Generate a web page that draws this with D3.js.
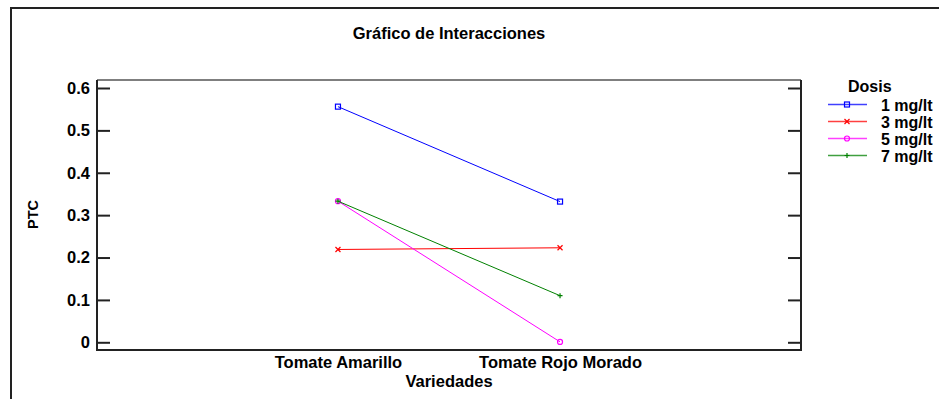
<!DOCTYPE html>
<html><head><meta charset="utf-8">
<script src="https://cdn.jsdelivr.net/npm/d3@7"></script>
<style>body{margin:0;background:#fff;} text{font-family:"Liberation Sans",Arial,sans-serif;font-weight:bold;}</style>
</head><body>
<svg id="c" width="939" height="399"></svg>
<script>
const categories = ["Tomate Amarillo", "Tomate Rojo Morado"];
const seriesNames = ["1 mg/lt", "3 mg/lt", "5 mg/lt", "7 mg/lt"];
const seriesColors = ["#0000ff", "#ff0000", "#ff00ff", "#008000"];
const seriesSymbols = ["square", "x", "circle", "plus"];
const v1 = [0.556, 0.332];
const v3 = [0.219, 0.223];
const v5 = [0.333, 0.001];
const v7 = [0.333, 0.110];
const yTicks = [0, 0.1, 0.2, 0.3, 0.4, 0.5, 0.6];
const seriesValues = [v1, v3, v5, v7];

const svg = d3.select("#c");
const L = 97, R = 801, T = 80, B = 350;
const FS = "16.5px";

// outer frame
svg.append("rect").attr("x", 11).attr("y", 8).attr("width", 960).attr("height", 420)
  .attr("fill", "none").attr("stroke", "#222").attr("stroke-width", 2);

const x = d3.scalePoint().domain(categories).range([L, R]).padding(1.085);
const y = d3.scaleLinear().domain([0, 0.6]).range([342.3, 88]);

// title
svg.append("text").attr("x", 449).attr("y", 39).attr("text-anchor", "middle")
  .style("font-size", FS).text("Gráfico de Interacciones");

// plot frame
svg.append("line").attr("x1", L).attr("x2", R).attr("y1", T).attr("y2", T).attr("stroke", "#000").attr("stroke-width", 1.2);
svg.append("path").attr("d", `M${L},${T}V${B}H${R}V${T}`).attr("fill", "none").attr("stroke", "#222").attr("stroke-width", 2);

// y axis left
const yAxisL = d3.axisRight(y).tickValues(yTicks).tickSize(13).tickFormat(d => d === 0 ? "0" : d3.format(".1f")(d));
const gL = svg.append("g").attr("transform", `translate(${L},0)`).call(yAxisL);
gL.select(".domain").remove();
gL.selectAll(".tick line").attr("stroke", "#222").attr("stroke-width", 2);
gL.selectAll(".tick text").attr("x", -7).attr("text-anchor", "end").attr("fill", "#000")
  .style("font-size", FS).style("font-family", "Liberation Sans, Arial, sans-serif").style("font-weight", "bold");

// y axis right ticks
const yAxisR = d3.axisLeft(y).tickValues(yTicks).tickSize(13).tickFormat("");
const gR = svg.append("g").attr("transform", `translate(${R},0)`).call(yAxisR);
gR.select(".domain").remove();
gR.selectAll(".tick line").attr("stroke", "#222").attr("stroke-width", 2);

// x axis labels
const xAxis = d3.axisBottom(x).tickSize(0).tickPadding(0);
const gX = svg.append("g").attr("transform", `translate(0,${B})`).call(xAxis);
gX.select(".domain").remove();
gX.selectAll(".tick text").attr("fill", "#000").attr("dy", null).attr("y", 18)
  .style("font-size", FS).style("font-family", "Liberation Sans, Arial, sans-serif").style("font-weight", "bold");

// axis titles
svg.append("text").attr("x", 449).attr("y", 387).attr("text-anchor", "middle").style("font-size", FS).text("Variedades");
svg.append("text").attr("transform", "translate(38,214.5) rotate(-90)").attr("text-anchor", "middle").style("font-size", "14.5px").text("PTC");

function marker(g, sym, color, cx, cy) {
  if (sym === "square") {
    g.append("rect").attr("x", cx - 2.5).attr("y", cy - 2.5).attr("width", 5).attr("height", 5)
      .attr("fill", "none").attr("stroke", color).attr("stroke-width", 1.2);
  } else if (sym === "circle") {
    g.append("circle").attr("cx", cx).attr("cy", cy).attr("r", 2.5).attr("fill", "none").attr("stroke", color).attr("stroke-width", 1.2);
  } else if (sym === "x") {
    g.append("path").attr("d", `M${cx-2.5},${cy-2.5}L${cx+2.5},${cy+2.5}M${cx-2.5},${cy+2.5}L${cx+2.5},${cy-2.5}`)
      .attr("stroke", color).attr("stroke-width", 1.2);
  } else {
    g.append("path").attr("d", `M${cx-2.5},${cy}H${cx+2.5}M${cx},${cy-2.5}V${cy+2.5}`)
      .attr("stroke", color).attr("stroke-width", 1.2);
  }
}

const line = d3.line().x((d, i) => x(categories[i])).y(d => y(d));
seriesValues.forEach((vals, s) => {
  const g = svg.append("g");
  g.append("path").attr("d", line(vals)).attr("fill", "none").attr("stroke", seriesColors[s]).attr("stroke-width", 1);
  vals.forEach((v, i) => marker(g, seriesSymbols[s], seriesColors[s], x(categories[i]), y(v)));
});

// legend
svg.append("text").attr("x", 848).attr("y", 92).style("font-size", "16px").text("Dosis");
seriesNames.forEach((n, s) => {
  const ly = 104.5 + s * 17;
  const g = svg.append("g");
  g.append("line").attr("x1", 828).attr("x2", 867).attr("y1", ly).attr("y2", ly).attr("stroke", seriesColors[s])
    .attr("stroke-width", 1.5).attr("stroke-opacity", 0.75);
  marker(g, seriesSymbols[s], seriesColors[s], 847, ly);
  g.append("text").attr("x", 881).attr("y", ly + 6).style("font-size", "16px").text(n);
});
</script>
</body></html>
